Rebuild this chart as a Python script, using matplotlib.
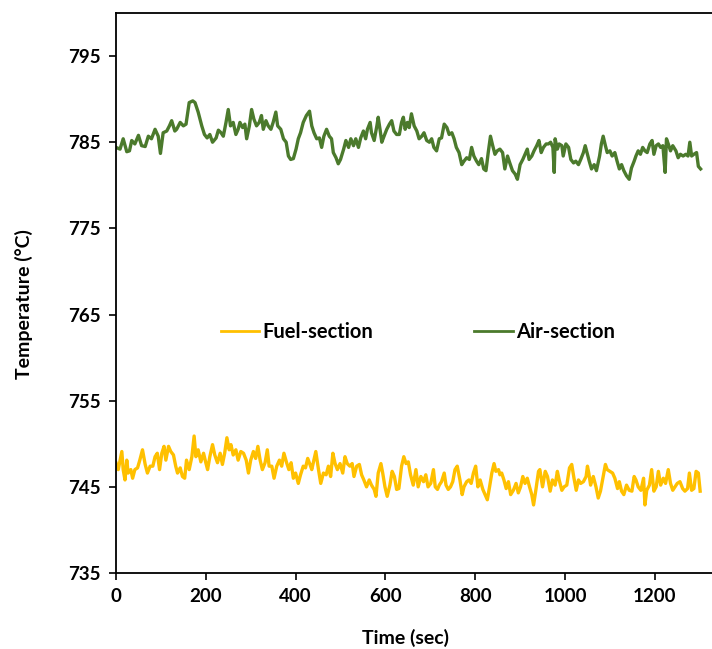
import matplotlib
matplotlib.use("Agg")
import matplotlib.pyplot as plt

plt.rcParams['font.family'] = ['Lato', 'DejaVu Sans']
plt.rcParams['font.weight'] = 'bold'

# ---- data ----
air_t = [0, 9, 16, 24, 30, 35, 42, 50, 57, 65, 72, 79, 87, 94, 99, 105, 113, 119, 124, 131,
         135, 143, 150, 156, 163, 171, 176, 183, 191, 197, 203, 209, 215, 223, 228, 234, 239, 245, 250, 255,
         261, 267, 272, 276, 282, 287, 291, 297, 302, 307, 313, 319, 324, 328, 334, 339, 345, 350, 356, 360,
         367, 373, 379, 384, 389, 395, 401, 406, 411, 417, 424, 431, 436, 441, 447, 453, 458, 463, 469, 475,
         480, 484, 490, 495, 500, 507, 512, 518, 523, 529, 534, 540, 545, 551, 556, 560, 566, 569, 575, 581,
         584, 588, 592, 597, 603, 609, 614, 619, 625, 631, 636, 640, 644, 649, 653, 658, 664, 670, 675, 681,
         686, 692, 698, 703, 708, 714, 720, 725, 731, 737, 742, 748, 753, 758, 764, 770, 775, 781, 787, 792,
         797, 803, 808, 814, 819, 824, 829, 834, 839, 844, 849, 855, 861, 866, 872, 877, 883, 889, 894, 900,
         906, 911, 916, 920, 926, 931, 937, 942, 947, 952, 958, 963, 968, 973, 976, 978, 983, 987, 993, 996,
         1002, 1008, 1013, 1019, 1024, 1030, 1035, 1041, 1045, 1050, 1054, 1059, 1065, 1070, 1077, 1081, 1085, 1090, 1094, 1100,
         1105, 1111, 1116, 1121, 1126, 1131, 1137, 1143, 1148, 1154, 1158, 1163, 1168, 1173, 1178, 1183, 1189, 1194, 1198, 1203,
         1208, 1213, 1218, 1223, 1226, 1230, 1235, 1240, 1247, 1252, 1257, 1263, 1269, 1274, 1278, 1282, 1287, 1293, 1297, 1302]
air_temp = [784.4, 784.2, 785.4, 783.9, 784.0, 785.2, 784.8, 785.8, 784.6, 784.5, 785.7, 785.4, 786.5, 785.7, 783.7, 786.1, 786.3, 786.9, 787.5, 786.3,
            786.5, 787.3, 786.9, 787.1, 789.6, 789.8, 789.6, 788.5, 786.9, 785.9, 785.5, 785.9, 785.0, 785.5, 786.4, 786.1, 785.7, 787.3, 788.8, 786.9,
            787.3, 785.9, 786.5, 787.3, 786.7, 787.1, 785.4, 786.9, 788.8, 787.7, 786.9, 787.3, 788.1, 786.5, 787.5, 786.9, 786.5, 787.3, 788.5, 786.9,
            786.5, 785.4, 785.0, 783.4, 783.0, 783.1, 784.2, 785.4, 786.1, 787.3, 788.1, 788.6, 786.9, 786.1, 785.4, 785.5, 784.4, 785.7, 786.5, 785.7,
            785.4, 783.8, 783.2, 782.5, 783.0, 784.2, 785.2, 784.4, 785.4, 784.6, 785.4, 784.4, 785.5, 786.3, 785.4, 786.5, 787.3, 786.1, 785.2, 786.9,
            787.9, 786.5, 785.0, 785.7, 786.5, 787.1, 787.5, 786.3, 785.9, 785.9, 787.3, 787.9, 786.5, 787.3, 786.7, 788.3, 786.9, 786.3, 785.4, 785.7,
            786.1, 785.2, 785.0, 785.4, 784.4, 784.0, 785.4, 785.5, 787.1, 786.7, 785.9, 786.1, 785.4, 784.4, 783.8, 782.4, 782.8, 783.2, 783.0, 784.4,
            783.4, 782.8, 782.4, 783.1, 781.9, 781.7, 783.8, 785.7, 784.6, 783.6, 784.0, 784.2, 783.8, 781.9, 783.4, 782.6, 781.7, 781.3, 780.7, 782.4,
            783.0, 783.6, 784.2, 783.0, 783.4, 784.0, 784.6, 785.2, 783.8, 784.4, 784.8, 784.8, 785.0, 784.4, 781.5, 785.4, 784.2, 784.8, 784.6, 783.4,
            784.8, 784.4, 783.0, 782.6, 782.8, 782.4, 783.0, 783.8, 784.6, 783.6, 782.8, 781.9, 782.4, 781.7, 783.4, 784.8, 785.7, 784.6, 783.8, 784.0,
            783.4, 783.8, 782.8, 781.9, 782.4, 781.7, 781.1, 780.7, 782.0, 782.8, 783.4, 784.0, 783.6, 784.4, 784.0, 783.8, 784.8, 785.2, 783.6, 784.6,
            784.8, 784.4, 784.6, 781.5, 785.4, 784.8, 784.0, 784.6, 784.0, 783.2, 783.6, 783.4, 783.6, 783.4, 785.0, 783.4, 783.6, 783.8, 782.2, 781.9]

fuel_t = [0, 5, 13, 16, 20, 24, 27, 33, 37, 42, 48, 53, 59, 65, 70, 76, 82, 87, 92, 97,
          102, 107, 111, 117, 122, 128, 133, 137, 143, 148, 153, 157, 163, 169, 174, 178, 183, 189, 195, 200,
          204, 209, 215, 220, 226, 232, 237, 242, 247, 252, 256, 261, 267, 272, 278, 284, 290, 295, 300, 306,
          311, 316, 321, 326, 332, 337, 341, 347, 352, 358, 364, 369, 374, 380, 385, 390, 395, 400, 406, 411,
          417, 422, 427, 432, 436, 445, 451, 456, 462, 468, 473, 478, 483, 488, 493, 499, 505, 510, 515, 521,
          526, 530, 536, 542, 547, 552, 558, 564, 569, 575, 579, 584, 590, 594, 599, 604, 610, 615, 620, 625,
          630, 636, 641, 646, 651, 656, 662, 668, 673, 679, 685, 690, 695, 701, 707, 711, 716, 720, 725, 731,
          735, 740, 745, 750, 755, 760, 766, 771, 775, 781, 786, 791, 796, 801, 806, 811, 817, 822, 827, 832,
          837, 842, 846, 852, 855, 859, 864, 869, 874, 879, 885, 891, 896, 901, 906, 911, 916, 921, 926, 930,
          935, 941, 944, 950, 956, 961, 967, 972, 978, 983, 987, 993, 998, 1004, 1010, 1015, 1020, 1025, 1030, 1035,
          1041, 1047, 1050, 1053, 1057, 1063, 1069, 1074, 1079, 1085, 1090, 1094, 1100, 1106, 1111, 1117, 1121, 1126, 1131, 1137,
          1143, 1149, 1154, 1158, 1163, 1169, 1175, 1178, 1182, 1188, 1193, 1198, 1203, 1208, 1213, 1219, 1224, 1230, 1235, 1240,
          1245, 1250, 1256, 1262, 1267, 1273, 1277, 1282, 1287, 1292, 1297, 1301]
fuel_temp = [747.8, 747.0, 749.1, 747.0, 745.8, 748.1, 746.6, 747.0, 746.0, 747.0, 747.2, 748.1, 749.3, 747.6, 746.6, 747.4, 747.4, 748.5, 748.9, 747.0,
             748.9, 749.7, 748.1, 749.7, 749.1, 748.7, 747.4, 746.6, 747.2, 746.2, 746.0, 748.1, 747.0, 748.5, 750.9, 748.5, 749.3, 747.9, 748.9, 747.8,
             747.0, 748.5, 749.9, 748.7, 747.8, 748.9, 747.6, 748.9, 750.7, 749.3, 749.9, 748.7, 749.3, 748.1, 749.1, 748.9, 748.1, 746.6, 748.1, 749.1,
             748.3, 749.7, 748.1, 747.0, 747.8, 749.3, 747.4, 747.4, 746.0, 747.4, 748.1, 747.4, 748.9, 747.8, 747.0, 747.8, 746.0, 746.6, 745.4, 746.4,
             747.4, 747.2, 748.3, 747.6, 747.0, 749.1, 747.0, 745.4, 746.6, 746.4, 747.4, 746.2, 748.9, 747.7, 747.0, 747.7, 746.6, 748.5, 747.7, 747.4,
             747.7, 746.2, 747.4, 747.6, 746.4, 745.8, 745.0, 745.8, 745.2, 744.7, 743.9, 746.6, 747.7, 746.6, 745.0, 743.9, 745.2, 746.8, 746.2, 744.7,
             744.8, 747.4, 748.5, 747.7, 747.9, 746.4, 745.2, 747.0, 745.0, 746.2, 745.6, 746.4, 745.0, 745.4, 747.0, 745.0, 744.7, 745.2, 745.6, 746.6,
             745.2, 744.7, 745.0, 745.6, 747.0, 747.4, 745.8, 744.1, 745.0, 745.6, 745.8, 745.4, 746.6, 747.4, 745.0, 745.8, 744.7, 744.1, 743.5, 745.0,
             746.6, 747.7, 746.8, 747.0, 746.4, 746.6, 745.8, 744.8, 745.6, 744.1, 744.6, 745.4, 744.3, 745.0, 746.2, 745.4, 746.0, 745.0, 744.1, 742.9,
             744.6, 746.8, 747.0, 745.0, 746.8, 746.2, 744.5, 745.8, 745.2, 746.8, 745.8, 744.6, 745.0, 745.2, 747.2, 747.6, 746.0, 744.6, 745.8, 745.4,
             745.6, 746.2, 747.4, 746.6, 745.2, 746.2, 745.0, 743.7, 744.5, 746.2, 747.6, 747.0, 746.8, 746.6, 746.0, 744.8, 745.6, 744.5, 744.1, 745.2,
             744.6, 744.5, 746.2, 745.8, 745.0, 744.6, 746.0, 742.9, 744.6, 745.2, 747.0, 744.5, 745.0, 746.8, 745.2, 746.0, 745.4, 747.0, 745.4, 744.6,
             745.0, 745.4, 745.6, 744.8, 744.5, 744.8, 746.6, 744.6, 744.8, 746.8, 746.6, 744.5]

x_ticks = [0, 200, 400, 600, 800, 1000, 1200]
y_ticks = [735, 745, 755, 765, 775, 785, 795]
series_names = ["Fuel-section", "Air-section"]
colors = ["#FFC000", "#4B7A2C"]

W, H = 712, 649
fig = plt.figure(figsize=(W / 100, H / 100), dpi=100)
left_px, bottom_px, top_px = 116, 573, 13
right_px = 116 + 1400 * 0.449
ax = fig.add_axes([left_px / W, (H - bottom_px) / H, (right_px - left_px) / W, (bottom_px - top_px) / H])

ax.plot(fuel_t, fuel_temp, color=colors[0], lw=2.4, label=series_names[0], solid_joinstyle='round')
ax.plot(air_t, air_temp, color=colors[1], lw=2.4, label=series_names[1], solid_joinstyle='round')

ax.set_xlim(0, 1400)
ax.set_ylim(735, 800)
ax.set_xticks(x_ticks)
ax.set_yticks(y_ticks)
ax.tick_params(axis='both', direction='out', length=5, width=1.2, labelsize=13.5, pad=6)
for lab in ax.get_xticklabels() + ax.get_yticklabels():
    lab.set_fontweight('bold')
for s in ax.spines.values():
    s.set_linewidth(1.3)
    s.set_color('black')

fig.text(24 / W, (H - 304) / H, "Temperature (°C)", rotation=90, ha='center', va='center',
         fontsize=14, fontweight='bold')
fig.text(406 / W, (H - 638) / H, "Time (sec)", ha='center', va='center',
         fontsize=14, fontweight='bold')

leg = ax.legend(loc='center', bbox_to_anchor=(418 / W, (H - 332) / H), bbox_transform=fig.transFigure,
                ncol=2, frameon=False, fontsize=14.5, handlelength=1.9, handletextpad=0.2,
                columnspacing=5.0)
for t in leg.get_texts():
    t.set_fontweight('bold')
for l in leg.get_lines():
    l.set_linewidth(2.0)

fig.savefig("out.png", dpi=100)
